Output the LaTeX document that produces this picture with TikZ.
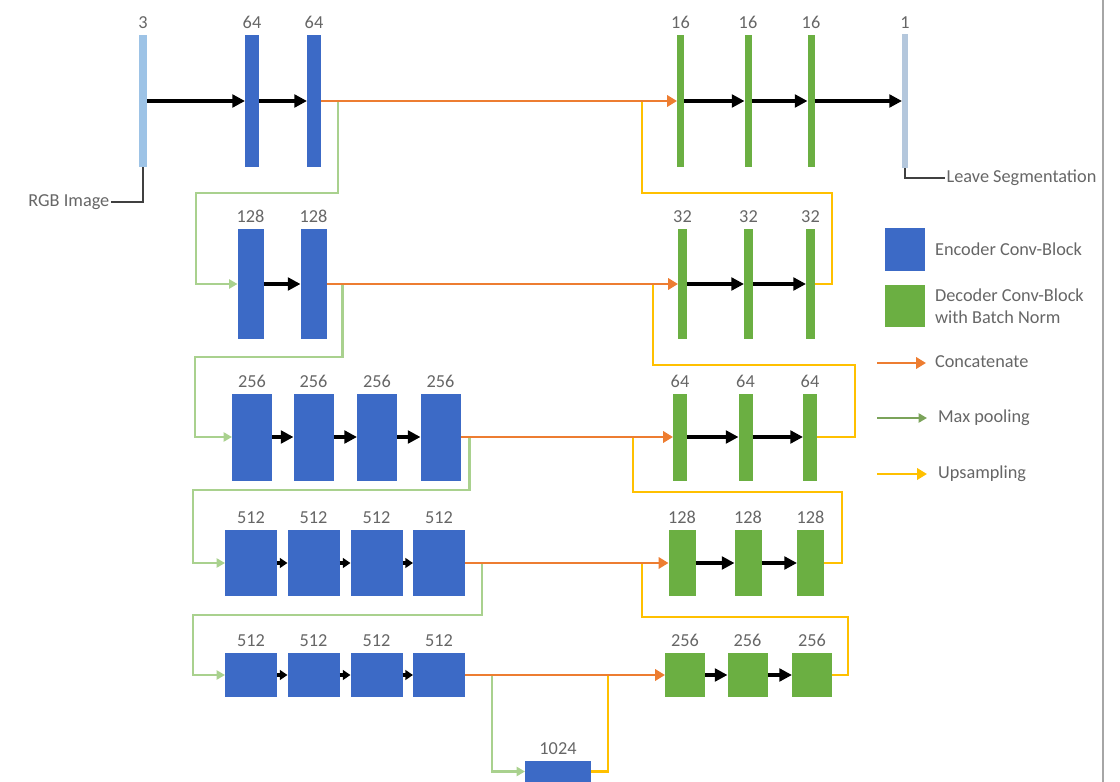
\documentclass[tikz,border=0pt]{standalone}
\usepackage{fontspec}
\setmainfont{Carlito}
\usepackage{xcolor}
\usepackage{tikz}
\usetikzlibrary{arrows.meta, positioning, calc}

\definecolor{encblue}{HTML}{3C6AC6}
\definecolor{decgreen}{HTML}{6BAF42}
\definecolor{inblue}{HTML}{9DC3E6}
\definecolor{outblue}{HTML}{B4C7DC}
\definecolor{catorange}{HTML}{ED7D31}
\definecolor{poolgreen}{HTML}{A9D18E}
\definecolor{legpool}{HTML}{7BA35A}
\definecolor{upyellow}{HTML}{FFC000}
\definecolor{numgray}{HTML}{666666}
\definecolor{framegray}{HTML}{A6A6A6}

\tikzset{
    blk/.style 2 args={inner sep=0pt, outer sep=0pt, minimum width=#1*0.025cm, minimum height=#2*0.025cm},
    enc/.style={fill=encblue},
    dec/.style={fill=decgreen},
    num/.style={text=numgray, font=\fontsize{13}{15.6}\selectfont, inner sep=1pt},
    legtxt/.style={text=numgray, font=\fontsize{13}{15.6}\selectfont, inner sep=2pt, align=left},
    fwd/.style={draw=black, line width=2.4pt, -{Triangle[length=9pt, width=9pt]}},
    fwdsmall/.style={draw=black, line width=2.4pt, -{Triangle[length=5.5pt, width=7pt]}},
    concat/.style={draw=catorange, line width=1.8pt, -{Triangle[length=7pt, width=8pt]}},
    pool/.style={draw=poolgreen, line width=1.5pt, -{Triangle[length=6pt, width=6.5pt]}},
    upsm/.style={draw=upyellow, line width=1.8pt},
    callout/.style={draw=black!75, line width=1.2pt},
}

\begin{document}
\begin{tikzpicture}[x=0.025cm, y=-0.025cm]
    \useasboundingbox (0,0) rectangle (1120,782);
    \draw[framegray, line width=0.8pt] (1103,0) -- (1103,782);

    \node[blk={8}{132}, fill=inblue] (in) at (143,101) {};
    \node[blk={6}{134}, fill=outblue] (out) at (905,101) {};
    \foreach \n/\x in {e11/252, e12/314}
        \node[blk={14}{132}, enc] (\n) at (\x,101) {};
    \foreach \n/\x in {d1a/680.5, d1b/748, d1c/811}
        \node[blk={7}{132}, dec] (\n) at (\x,101) {};

    \foreach \n/\x in {e21/250.5, e22/313.5}
        \node[blk={26}{110}, enc] (\n) at (\x,284) {};
    \foreach \n/\x in {d2a/682.5, d2b/748.5, d2c/810.5}
        \node[blk={9}{110}, dec] (\n) at (\x,284) {};

    \foreach \n/\x in {e31/252, e32/313.5, e33/377, e34/440.5}
        \node[blk={40}{87}, enc] (\n) at (\x,437) {};
    \foreach \n/\x in {d3a/680, d3b/745.5, d3c/810}
        \node[blk={14}{87}, dec] (\n) at (\x,437) {};

    \foreach \n/\x in {e41/251, e42/313.5, e43/376.5, e44/439}
        \node[blk={52}{66}, enc] (\n) at (\x,563) {};
    \foreach \n/\x in {d4a/682, d4b/748, d4c/810.5}
        \node[blk={27}{66}, dec] (\n) at (\x,563) {};

    \foreach \n/\x in {e51/251, e52/313.5, e53/376.5, e54/439}
        \node[blk={52}{44}, enc] (\n) at (\x,675) {};
    \foreach \n/\x in {d5a/685, d5b/747.5, d5c/812}
        \node[blk={40}{44}, dec] (\n) at (\x,675) {};

    \node[blk={66}{21}, enc] (bott) at (558,771.5) {};

    \foreach \n/\t in {in/3, e11/64, e12/64, d1a/16, d1b/16, d1c/16, out/1,
        e21/128, e22/128, d2a/32, d2b/32, d2c/32,
        e31/256, e32/256, e33/256, e34/256, d3a/64, d3b/64, d3c/64,
        e41/512, e42/512, e43/512, e44/512, d4a/128, d4b/128, d4c/128,
        e51/512, e52/512, e53/512, e54/512, d5a/256, d5b/256, d5c/256, bott/1024}
        \node[num, above=3pt of \n] (\n-t) {\t};

    \node[num, anchor=east] (rgb) at (111,202) {RGB Image};
    \node[num, anchor=west] (seg) at (945,178) {Leave Segmentation};
    \draw[callout] (in.south) |- (rgb.east);
    \draw[callout] (out.south) |- (seg.west);

    \coordinate (j1) at (642,101);
    \coordinate (j2) at (653,284);
    \coordinate (j3) at (633,437);
    \coordinate (j4) at (642,563);
    \coordinate (j5) at (608,675);
    \draw[upsm] (d2c.east) -- ++(17,0) |- (642,193) -- (j1);
    \draw[upsm] (d3c.east) -- ++(38,0) |- (653,365) -- (j2);
    \draw[upsm] (d4c.east) -- ++(18,0) |- (633,492) -- (j3);
    \draw[upsm] (d5c.east) -- ++(16,0) |- (642,617) -- (j4);
    \draw[upsm] (bott.east) -| (j5);

    \draw[pool] ($(e12.east)+(17,0)$) |- (196,193) |- (e21.west);
    \draw[pool] ($(e22.east)+(16,0)$) |- (195,357) |- (e31.west);
    \draw[pool] ($(e34.east)+(9,0)$) |- (193,490) |- (e41.west);
    \draw[pool] ($(e44.east)+(17,0)$) |- (193,615) |- (e51.west);
    \draw[pool] ($(e54.east)+(27,0)$) |- (bott.west);

    \foreach \a/\b in {e12/d1a, e22/d2a, e34/d3a, e44/d4a, e54/d5a}
        \draw[concat] (\a) -- (\b);

    \foreach \a/\b in {in/e11, e11/e12, d1a/d1b, d1b/d1c, d1c/out, e21/e22,
        d2a/d2b, d2b/d2c, e31/e32, e32/e33, e33/e34, d3a/d3b, d3b/d3c,
        d4a/d4b, d4b/d4c, d5a/d5b, d5b/d5c}
        \draw[fwd] (\a) -- (\b);
    \foreach \a/\b in {e41/e42, e42/e43, e43/e44, e51/e52, e52/e53, e53/e54}
        \draw[fwdsmall] (\a) -- (\b);

    \node[blk={40}{43}, enc] (legenc) at (905,249.5) {};
    \node[blk={40}{42}, dec] (legdec) at (905,306) {};
    \node[legtxt, anchor=west] (legenct) at (932,249) {Encoder Conv-Block};
    \node[legtxt, anchor=west] (legdect) at (932,306) {Decoder Conv-Block\\with Batch Norm};
    \node[legtxt, anchor=west] (legcat) at (932,362) {Concatenate};
    \node[legtxt, anchor=west] (legpl) at (935,418) {Max pooling};
    \node[legtxt, anchor=west] (legup) at (935,474) {Upsampling};
    \coordinate (lc1) at (877,363);
    \coordinate (lc2) at (877,418);
    \coordinate (lc3) at (877,474);
    \draw[concat] (lc1) -- ($(lc1 -| legcat.west)+(-6,0)$);
    \draw[pool, draw=legpool] (lc2) -- ($(lc2 -| legpl.west)+(-8,0)$);
    \draw[concat, draw=upyellow] (lc3) -- ($(lc3 -| legup.west)+(-8,0)$);
\end{tikzpicture}
\end{document}
